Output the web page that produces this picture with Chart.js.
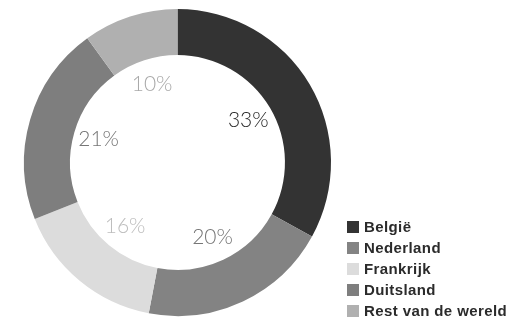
<!DOCTYPE html>
<html>
<head>
<meta charset="utf-8">
<script src="https://cdn.jsdelivr.net/npm/chart.js@4/dist/chart.umd.min.js"></script>
<style>
  html, body { margin: 0; padding: 0; background: #fff; }
  #exportChart { display: block; }
</style>
</head>
<body>
<canvas id="exportChart" width="531" height="320"></canvas>
<script>
// export per bestemming, aandeel in procent
const landen = ['België', 'Nederland', 'Frankrijk', 'Duitsland', 'Rest van de wereld'];
const aandelen = [33, 20, 16, 21, 10];

const sliceColors = ['#333333', '#838383', '#dcdcdc', '#7e7e7e', '#b0b0b0'];
const labelColors = ['#262626', '#767676', '#bdbdbd', '#767676', '#a8a8a8'];

// percentages inside the hole, at the middle angle of each arc
const percentLabels = {
    id: 'percentLabels',
    afterDatasetsDraw: chart => {
        const ctx = chart.ctx;
        const meta = chart.getDatasetMeta(0);
        ctx.save();
        ctx.font = '300 21px Lato, "Liberation Sans", sans-serif';
        ctx.textAlign = 'center';
        ctx.textBaseline = 'middle';
        meta.data.forEach((arc, i) => {
            const p = arc.getProps(['x', 'y', 'startAngle', 'endAngle', 'innerRadius'], true);
            const mid = (p.startAngle + p.endAngle) / 2;
            const r = p.innerRadius * 0.765;
            ctx.fillStyle = labelColors[i];
            ctx.fillText(aandelen[i] + '%', p.x + Math.cos(mid) * r, p.y + Math.sin(mid) * r);
        });
        ctx.restore();
    }
};

// legend in the lower right corner
const cornerLegend = {
    id: 'cornerLegend',
    afterDraw: chart => {
        const ctx = chart.ctx;
        const left = 347;
        const rowH = 21;
        const firstRow = 227;
        ctx.save();
        ctx.font = 'bold 15px "Liberation Sans", Arial, sans-serif';
        ctx.letterSpacing = '0.4px';
        ctx.textAlign = 'left';
        ctx.textBaseline = 'middle';
        chart.data.labels.forEach((name, i) => {
            const y = firstRow + i * rowH;
            ctx.fillStyle = sliceColors[i];
            ctx.fillRect(left, y - 6, 12, 12);
            ctx.fillStyle = '#2b2b2b';
            ctx.fillText(name, left + 17, y + 1);
        });
        ctx.restore();
    }
};

new Chart(document.getElementById('exportChart').getContext('2d'), {
    type: 'doughnut',
    data: {
        labels: landen,
        datasets: [{
            data: aandelen,
            backgroundColor: sliceColors,
            borderWidth: 0,
            hoverOffset: 0,
            offset: 0
        }]
    },
    options: {
        responsive: false,
        animation: false,
        devicePixelRatio: 1,
        events: [],
        cutout: '70%',
        layout: { padding: { left: 0, right: 176, top: 9, bottom: 4 } },
        plugins: {
            legend: { display: false },
            tooltip: { enabled: false }
        }
    },
    plugins: [percentLabels, cornerLegend]
});
</script>
</body>
</html>
